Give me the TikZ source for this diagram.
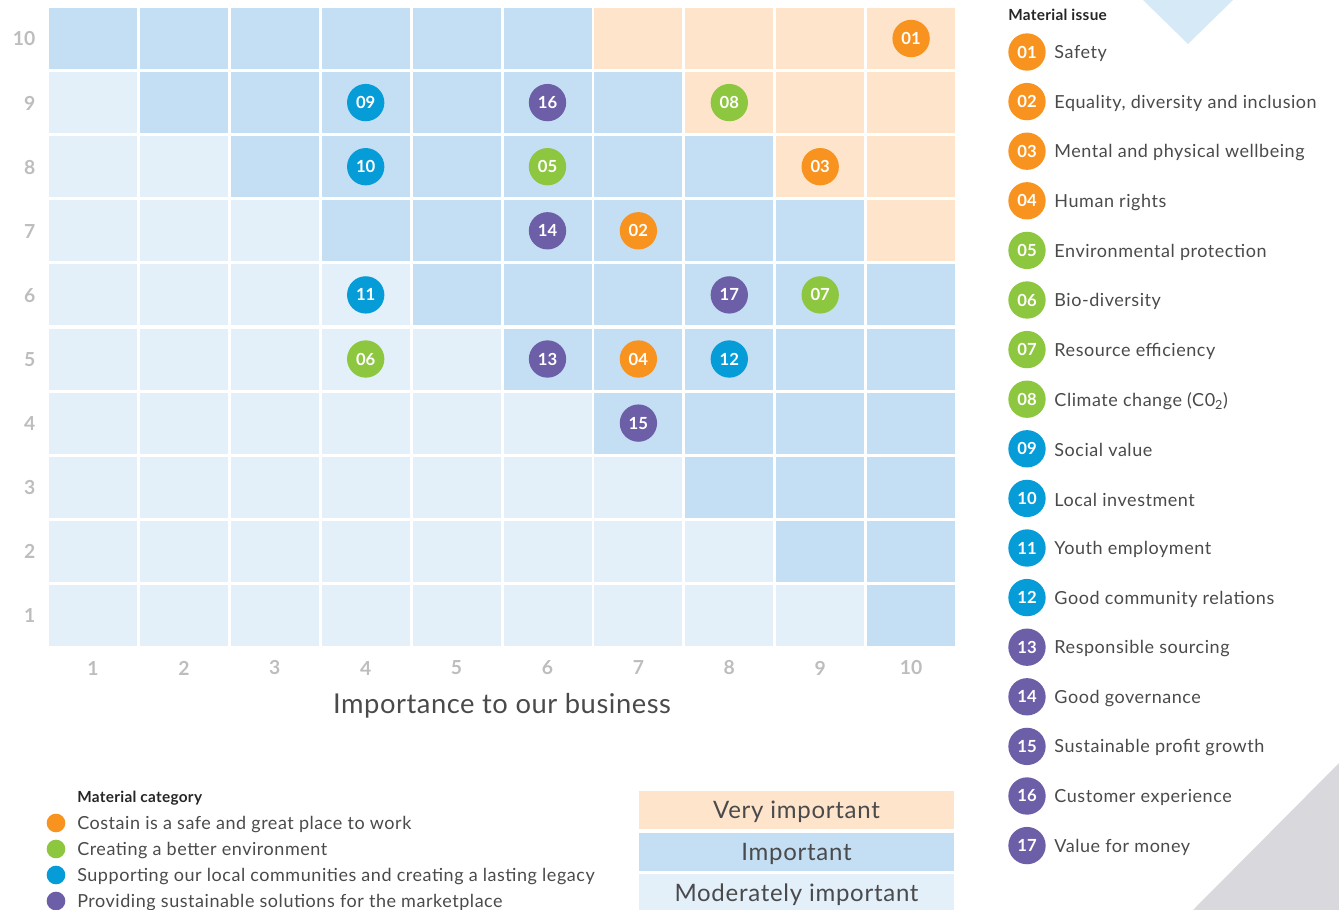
\documentclass[tikz,border=0pt]{standalone}
\usepackage{fontspec}
\setmainfont{Lato}
\usetikzlibrary{positioning}
\definecolor{veryimp}{HTML}{FDE4CA}
\definecolor{imp}{HTML}{C4DFF3}
\definecolor{modimp}{HTML}{E3F0F9}
\definecolor{safeorange}{HTML}{F7931E}
\definecolor{envgreen}{HTML}{8DC63F}
\definecolor{commblue}{HTML}{069CD8}
\definecolor{mktpurple}{HTML}{6C5FA7}
\definecolor{axisgray}{HTML}{BDBDC0}
\definecolor{textgray}{HTML}{4A4A4C}
\definecolor{cornerblue}{HTML}{D6E9F7}
\definecolor{cornergray}{HTML}{D9D9DD}

\begin{document}
\begin{tikzpicture}[x=0.75pt, y=-0.75pt,
    bubble/.style={circle, inner sep=0pt, minimum size=28pt, text=white, font=\fontsize{12.5}{14}\selectfont\bfseries},
    axisnum/.style={text=axisgray, font=\fontsize{14.5}{16}\selectfont\bfseries},
    legtext/.style={inner sep=0pt, text=textgray, font=\fontsize{13.5}{15}\selectfont\addfontfeature{LetterSpace=3}},
    keyhead/.style={anchor=west, inner sep=0pt, text=black!85, font=\fontsize{11.5}{13}\selectfont\bfseries\addfontfeature{LetterSpace=2}},
    legbox/.style={minimum width=236pt, minimum height=28.5pt, inner sep=0pt, text depth=0pt, text=textgray, font=\fontsize{18}{20}\selectfont\addfontfeature{LetterSpace=3}}]
    \useasboundingbox (0,0) rectangle (1339,910);

    % Corner triangles
    \fill[cornerblue] (1143,0) -- (1233,0) -- (1188,44) -- cycle;
    \fill[cornergray] (1193,910) -- (1339,763) -- (1339,910) -- cycle;

    % Matrix cells
    \foreach \r in {1,...,10} {
      \foreach \c in {1,...,10} {
        \pgfmathtruncatemacro{\s}{\r+\c}
        \ifnum\s>16 \def\cellcol{veryimp}\else\ifnum\s>10 \def\cellcol{imp}\else\def\cellcol{modimp}\fi\fi
        \fill[\cellcol] ({49+(\c-1)*90.9}, {8+(10-\r)*64.1}) rectangle +(88,61);
      }
    }

    % Axis numbers
    \foreach \i in {1,...,10} {
      \node[axisnum] (xn\i) at ({93+(\i-1)*90.9}, 668) {\i};
      \node[axisnum, anchor=east] (yn\i) at (40, {39+(10-\i)*64.1}) {\i};
    }
    \node[text=textgray, font=\fontsize{20.5}{23}\selectfont\addfontfeature{LetterSpace=2}] (xtitle) at (502, 706) {Importance to our business};

    % Issues on the matrix
    \foreach \n/\c/\r/\col in {01/10/10/safeorange, 02/7/7/safeorange, 03/9/8/safeorange, 04/7/5/safeorange,
        05/6/8/envgreen, 06/4/5/envgreen, 07/9/6/envgreen, 08/8/9/envgreen,
        09/4/9/commblue, 10/4/8/commblue, 11/4/6/commblue, 12/8/5/commblue,
        13/6/5/mktpurple, 14/6/7/mktpurple, 15/7/4/mktpurple, 16/6/9/mktpurple, 17/8/6/mktpurple} {
      \node[bubble, fill=\col] (p\n) at ({93+(\c-1)*90.9}, {38.5+(10-\r)*64.1}) {\n};
    }

    % Material issue key
    \node[keyhead] (issuehead) at (1008, 15) {Material issue};
    \foreach \n/\col/\lbl [count=\i] in {01/safeorange/Safety, {02/safeorange/Equality, diversity and inclusion},
        03/safeorange/Mental and physical wellbeing, 04/safeorange/Human rights,
        05/envgreen/Environmental protection, 06/envgreen/Bio-diversity, 07/envgreen/Resource efficiency,
        08/envgreen/Climate change (C0\textsubscript{2}), 09/commblue/Social value, 10/commblue/Local investment,
        11/commblue/Youth employment, 12/commblue/Good community relations, 13/mktpurple/Responsible sourcing,
        14/mktpurple/Good governance, 15/mktpurple/Sustainable profit growth, 16/mktpurple/Customer experience,
        17/mktpurple/Value for money} {
      \node[bubble, fill=\col] (k\n) at (1027, {52+(\i-1)*49.6}) {\n};
      \node[legtext, right=6.2pt of k\n, yshift=-1.2pt] (kt\n) {\lbl};
    }

    % Material category key
    \node[keyhead] (cathead) at (77, 798) {Material category};
    \foreach \col/\lbl [count=\i] in {safeorange/Costain is a safe and great place to work, envgreen/Creating a better environment,
        commblue/Supporting our local communities and creating a lasting legacy, mktpurple/Providing sustainable solutions for the marketplace} {
      \node[circle, fill=\col, inner sep=0pt, minimum size=14pt] (cd\i) at (56, {823+(\i-1)*26}) {};
      \node[legtext, anchor=west, yshift=-1.5pt] (ct\i) at (77, {823+(\i-1)*26}) {\lbl};
    }

    % Importance key
    \node[legbox, fill=veryimp] (vimp) at (796.5, 810) {Very important};
    \node[legbox, fill=imp, below=2.25pt of vimp] (imp) {Important};
    \node[legbox, fill=modimp, below=2.25pt of imp] (mimp) {Moderately important};
\end{tikzpicture}
\end{document}
